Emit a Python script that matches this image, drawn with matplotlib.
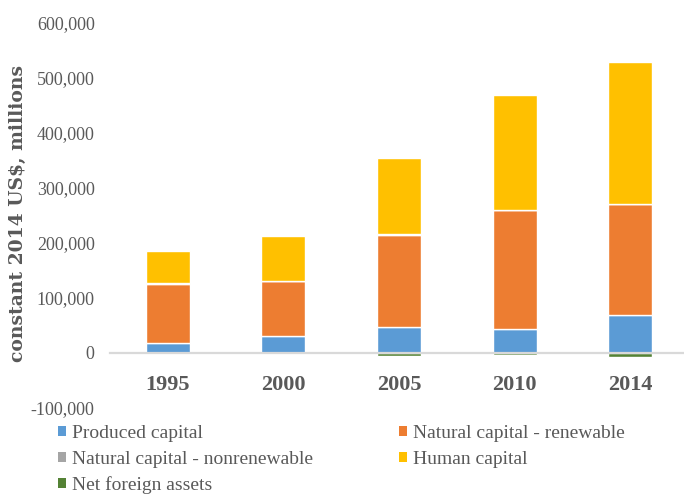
import matplotlib.pyplot as plt
from matplotlib.patches import Patch
from matplotlib.ticker import FuncFormatter
import numpy as np

# Dados (constant 2014 US$, millions)
anos = ['1995', '2000', '2005', '2010', '2014']
produced = [17000, 30000, 46000, 43000, 68000]
renewable = [108500, 100500, 168500, 216000, 201500]
nonrenewable = [500, 500, 500, 500, 500]
human = [59000, 82000, 139500, 209000, 259000]
net_foreign = [0, -1000, -6000, -4000, -8000]

nomes = ['Produced capital', 'Natural capital - renewable',
         'Natural capital - nonrenewable', 'Human capital', 'Net foreign assets']
cores = ['#5B9BD5', '#ED7D31', '#A5A5A5', '#FFC000', '#548235']

plt.rcParams['font.family'] = ['Liberation Serif', 'DejaVu Serif']
cinza_texto = '#595959'

fig = plt.figure(figsize=(6.84, 4.96), dpi=100)
ax = fig.add_axes([110 / 684, 1 - 407.7 / 496, (684 - 110) / 684, (407.7 - 22.7) / 496])

x = np.arange(len(anos))
largura = 0.38
base = np.zeros(len(anos))
for valores, cor in zip([produced, renewable, nonrenewable, human], cores[:4]):
    ax.bar(x, valores, largura, bottom=base, color=cor, edgecolor='white', linewidth=1.0, zorder=2)
    base = base + np.array(valores)
ax.bar(x, net_foreign, largura, bottom=0, color=cores[4], edgecolor='white', linewidth=1.0, zorder=2)

# eixo x cruzando no zero (antes dos ticks, pois set_position reinicia os ticks)
for lado in ['top', 'right', 'left']:
    ax.spines[lado].set_visible(False)
ax.spines['bottom'].set_position(('data', 0))
ax.spines['bottom'].set_color('#D9D9D9')
ax.spines['bottom'].set_linewidth(1.6)
ax.spines['bottom'].set_zorder(3)

ax.set_ylim(-100000, 600000)
ax.set_xlim(-0.5, 4.5 - 4 / 115.5)
ax.set_yticks(np.arange(-100000, 600001, 100000))
ax.yaxis.set_major_formatter(FuncFormatter(lambda v, p: f'{int(v):,}'))
ax.tick_params(axis='y', length=0, labelsize=13, labelcolor=cinza_texto, pad=11)

ax.set_xticks(x)
ax.set_xticklabels(anos, fontsize=16, fontweight='bold', color=cinza_texto)
ax.tick_params(axis='x', length=0, pad=16)

fig.text(18 / 684, 1 - 213 / 496, 'constant 2014 US$, millions', rotation=90,
         ha='center', va='center', fontsize=13.5, fontweight='bold', color=cinza_texto,
         family=['DejaVu Serif'])

# Legenda em duas colunas
ordem = [0, 2, 4, 1, 3]
handles = [Patch(facecolor=cores[i], edgecolor='none') for i in ordem]
labels = [nomes[i] for i in ordem]
fig.legend(handles, labels, ncol=2, loc='upper left', bbox_to_anchor=(58 / 684, 1 - 425 / 496),
           frameon=False, fontsize=14, labelcolor=cinza_texto, handlelength=0.42,
           handleheight=0.42, handletextpad=0.3, columnspacing=4.4, labelspacing=0.45,
           borderpad=0, borderaxespad=0)

fig.savefig('out.png', dpi=100)
